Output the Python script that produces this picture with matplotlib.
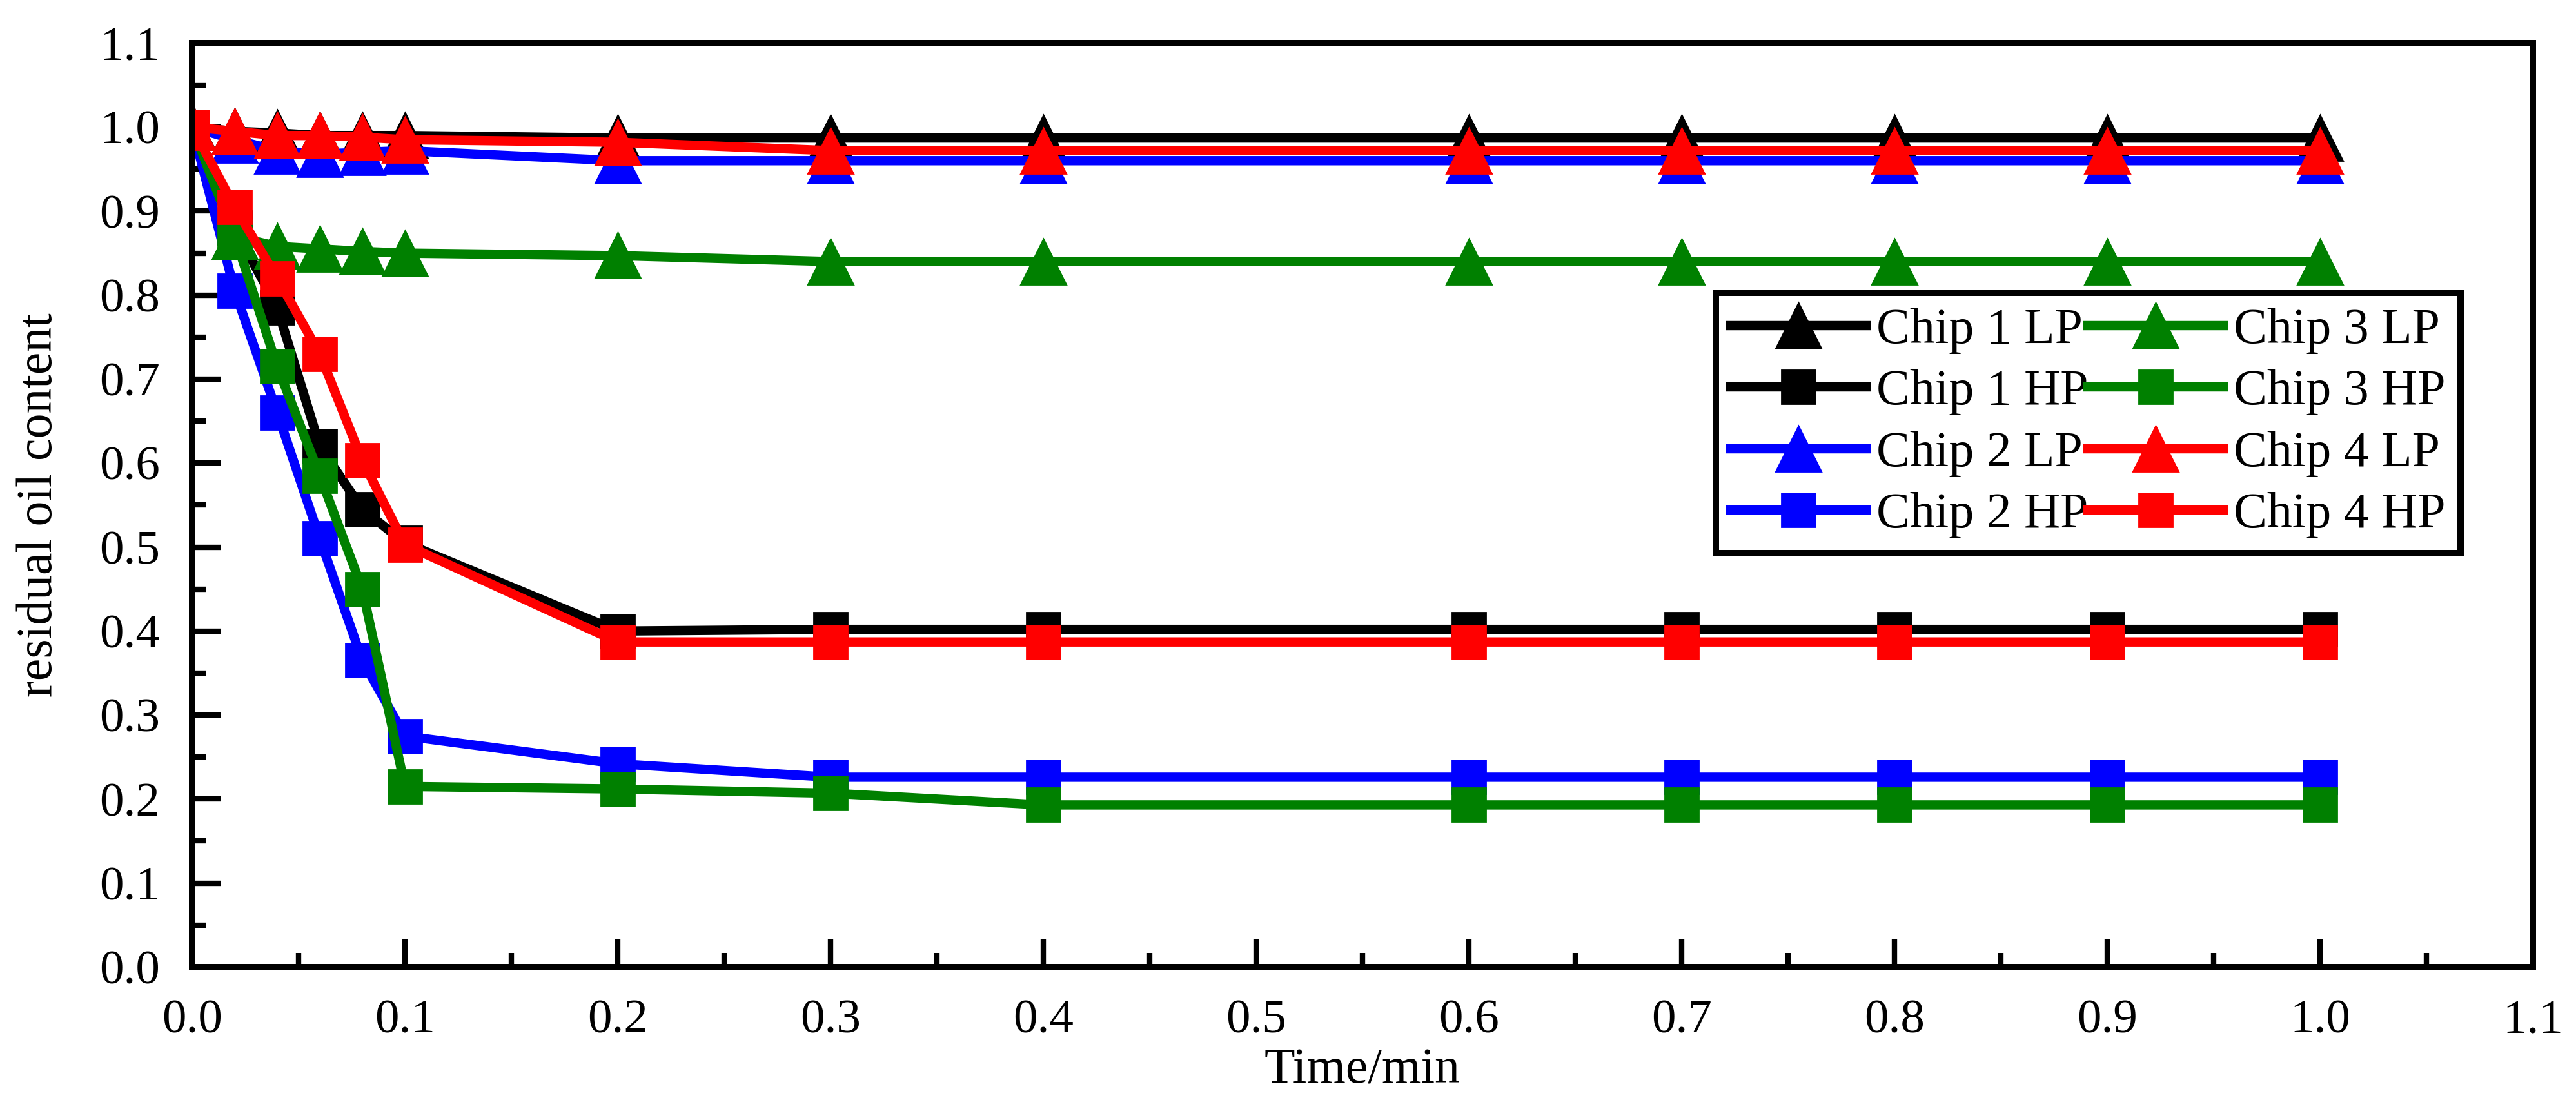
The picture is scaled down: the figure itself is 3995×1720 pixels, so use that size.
import numpy as np
import matplotlib
matplotlib.use('Agg')
import matplotlib.pyplot as plt
from matplotlib.ticker import MultipleLocator

plt.rcParams['font.family'] = ['Liberation Serif', 'DejaVu Serif']

# sampling times (min) - no point at 0.5
time = [0, 0.02, 0.04, 0.06, 0.08, 0.1, 0.2, 0.3, 0.4, 0.6, 0.7, 0.8, 0.9, 1.0]

chip1_lp = [1.0, 0.995, 0.993, 0.990, 0.990, 0.990, 0.987, 0.987, 0.987, 0.987, 0.987, 0.987, 0.987, 0.987]
chip1_hp = [1.0, 0.880, 0.785, 0.620, 0.545, 0.505, 0.400, 0.402, 0.402, 0.402, 0.402, 0.402, 0.402, 0.402]
chip2_lp = [1.0, 0.985, 0.972, 0.968, 0.970, 0.972, 0.960, 0.960, 0.960, 0.960, 0.960, 0.960, 0.960, 0.960]
chip2_hp = [1.0, 0.805, 0.660, 0.510, 0.365, 0.275, 0.242, 0.226, 0.226, 0.226, 0.226, 0.226, 0.226, 0.226]
chip3_lp = [1.0, 0.870, 0.858, 0.855, 0.852, 0.850, 0.847, 0.840, 0.840, 0.840, 0.840, 0.840, 0.840, 0.840]
chip3_hp = [1.0, 0.870, 0.715, 0.585, 0.450, 0.215, 0.212, 0.207, 0.193, 0.193, 0.193, 0.193, 0.193, 0.193]
chip4_lp = [1.0, 0.995, 0.990, 0.990, 0.988, 0.985, 0.982, 0.972, 0.972, 0.972, 0.972, 0.972, 0.972, 0.972]
chip4_hp = [1.0, 0.905, 0.820, 0.730, 0.603, 0.503, 0.387, 0.387, 0.387, 0.387, 0.387, 0.387, 0.387, 0.387]

labels = ['Chip 1 LP', 'Chip 1 HP', 'Chip 2 LP', 'Chip 2 HP',
          'Chip 3 LP', 'Chip 3 HP', 'Chip 4 LP', 'Chip 4 HP']
series = [chip1_lp, chip1_hp, chip2_lp, chip2_hp, chip3_lp, chip3_hp, chip4_lp, chip4_hp]
colors = ['black', 'black', '#0000ff', '#0000ff', '#008000', '#008000', '#ff0000', '#ff0000']
markers = ['^', 's', '^', 's', '^', 's', '^', 's']

fig = plt.figure(figsize=(19.975, 8.6), dpi=200)
ax = fig.add_axes([0.0746, 0.128, 0.9086, 0.8331])

for y, lab, c, m in zip(series, labels, colors, markers):
    ms = 25 if m == '^' else 19
    ax.plot(time, y, color=c, marker=m, markersize=ms, linewidth=5.2, label=lab)

ax.set_xlim(0, 1.1)
ax.set_ylim(0, 1.1)
ax.xaxis.set_major_locator(MultipleLocator(0.1))
ax.xaxis.set_minor_locator(MultipleLocator(0.05))
ax.yaxis.set_major_locator(MultipleLocator(0.1))
ax.yaxis.set_minor_locator(MultipleLocator(0.05))
ax.xaxis.set_major_formatter(lambda v, p: f'{v:.1f}')
ax.yaxis.set_major_formatter(lambda v, p: f'{v:.1f}')

ax.tick_params(which='both', direction='in', top=False, right=False, width=3, labelsize=27)
ax.tick_params(which='major', length=16, pad=18)
ax.tick_params(which='minor', length=8)
for s in ax.spines.values():
    s.set_linewidth(3.6)

ax.set_xlabel('Time/min', fontsize=28)
ax.set_ylabel('residual oil content', fontsize=28)
ax.xaxis.set_label_coords(0.5, -0.087)
ax.yaxis.set_label_coords(-0.0554, 0.5)

leg = ax.legend(ncol=2, loc='upper left', bbox_to_anchor=(0.651, 0.730), borderaxespad=0,
                fontsize=28, fancybox=False, edgecolor='black', framealpha=1,
                handlelength=2.7, handletextpad=0.2, columnspacing=0.0,
                labelspacing=0.3, borderpad=0.3)
leg.get_frame().set_linewidth(3.6)

fig.savefig('out.png', dpi=200)
